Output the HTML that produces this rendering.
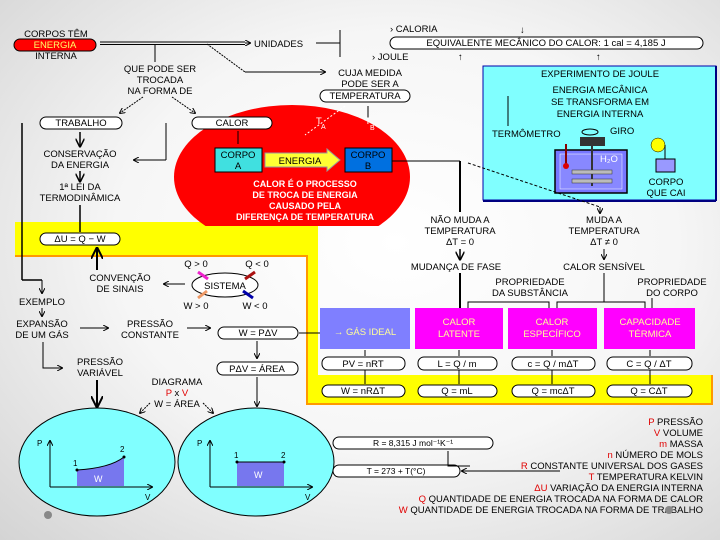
<!DOCTYPE html>
<html><head><meta charset="utf-8"><style>
html,body{margin:0;padding:0;}
body{width:720px;height:540px;overflow:hidden;background:radial-gradient(ellipse at 55% 45%,#ffffff 0%,#f6f6f6 50%,#d4d4d4 100%);}
svg{position:absolute;left:0;top:0;}
text{font-family:"Liberation Sans",sans-serif;font-size:9.5px;fill:#000;}
.c{text-anchor:middle;}
.r{text-anchor:end;}
.w{fill:#fff;font-weight:bold;font-size:9px;}
.y{fill:#ffff66;}
.rd{fill:#e00000;}
</style></head><body>
<svg width="720" height="540" viewBox="0 0 720 540">
<defs><marker id="a" markerWidth="6" markerHeight="6" refX="5" refY="3" orient="auto"><path d="M0,0 L6,3 L0,6" fill="none" stroke="#000" stroke-width="1"/></marker>
<clipPath id="cl"><rect x="0" y="0" width="720" height="226"/></clipPath></defs>
<!-- yellow frame -->
<path d="M15,222 H318 V375 H712 V404 H307 V256 H15 Z" fill="#ffff00"/>
<path d="M15,256 H307 V404 H712 V375" fill="none" stroke="#ff9900" stroke-width="2"/>
<!-- red ellipse -->
<ellipse cx="292" cy="177" rx="118" ry="72" fill="#ff0000" clip-path="url(#cl)"/>
<!-- joule box -->
<rect x="483" y="66" width="233" height="134" fill="#80ffff" stroke="#0000aa" stroke-width="1"/>
<line x1="716" y1="66" x2="716" y2="201" stroke="#000080" stroke-width="2"/>
<line x1="483" y1="201" x2="716" y2="201" stroke="#000080" stroke-width="2"/>
<!-- top left -->
<text x="56" y="37" class="c">CORPOS TÊM</text>
<rect x="14" y="39" width="82" height="12" rx="6" fill="#ff0000" stroke="#000"/>
<text x="55" y="48" class="c y">ENERGIA</text>
<text x="56" y="59" class="c">INTERNA</text>
<line x1="100" y1="42" x2="245" y2="42" stroke="#000"/><line x1="100" y1="44.5" x2="245" y2="44.5" stroke="#000"/>
<line x1="245" y1="43" x2="250" y2="43" stroke="#000" marker-end="url(#a)"/>
<text x="254" y="47">UNIDADES</text>
<line x1="316" y1="43" x2="340" y2="43" stroke="#000"/><line x1="340" y1="30" x2="340" y2="57" stroke="#000"/>
<text x="390" y="32">› CALORIA</text>
<text x="520" y="33">↓</text>
<rect x="390" y="37" width="313" height="12" rx="6" fill="#fff" stroke="#000"/>
<text x="546" y="46" class="c">EQUIVALENTE MECÂNICO DO CALOR: 1 cal = 4,185 J</text>
<text x="372" y="60">› JOULE</text>
<text x="458" y="60">↑</text><text x="596" y="60">↑</text>
<line x1="155" y1="44" x2="155" y2="62" stroke="#000"/>
<text x="160" y="72" class="c">QUE PODE SER</text>
<text x="160" y="83" class="c">TROCADA</text>
<text x="160" y="94" class="c">NA FORMA DE</text>
<line x1="207" y1="44" x2="245" y2="72" stroke="#000" stroke-dasharray="2,1"/>
<line x1="245" y1="72" x2="325" y2="72" stroke="#000" marker-end="url(#a)"/>
<text x="370" y="76" class="c">CUJA MEDIDA</text>
<text x="370" y="87" class="c">PODE SER A</text>
<rect x="320" y="90" width="90" height="12" rx="6" fill="#fff" stroke="#000"/>
<text x="365" y="99" class="c">TEMPERATURA</text>
<line x1="143" y1="97" x2="120" y2="113" stroke="#000" stroke-dasharray="2,1" marker-end="url(#a)"/>
<line x1="172" y1="97" x2="195" y2="113" stroke="#000" stroke-dasharray="2,1" marker-end="url(#a)"/>
<rect x="40" y="117" width="82" height="12" rx="6" fill="#fff" stroke="#000"/>
<text x="81" y="126" class="c">TRABALHO</text>
<rect x="192" y="117" width="80" height="12" rx="6" fill="#fff" stroke="#000"/>
<text x="232" y="126" class="c">CALOR</text>
<line x1="80" y1="132" x2="80" y2="146" stroke="#000" stroke-width="1.5" marker-end="url(#a)"/>
<text x="80" y="157" class="c">CONSERVAÇÃO</text>
<text x="80" y="168" class="c">DA ENERGIA</text>
<line x1="80" y1="171" x2="80" y2="181" stroke="#000" stroke-width="1.5" marker-end="url(#a)"/>
<text x="80" y="190" class="c">1ª LEI DA</text>
<text x="80" y="201" class="c">TERMODINÂMICA</text>
<line x1="80" y1="205" x2="80" y2="232" stroke="#000" stroke-width="1.5"/>
<line x1="166" y1="123" x2="166" y2="160" stroke="#000"/><line x1="166" y1="160" x2="134" y2="160" stroke="#000" marker-end="url(#a)"/>
<line x1="22" y1="123" x2="22" y2="280" stroke="#000" stroke-width="1.5"/>
<line x1="22" y1="280" x2="42" y2="280" stroke="#000" stroke-width="1.5"/>
<line x1="42" y1="280" x2="42" y2="293" stroke="#000" marker-end="url(#a)"/>
<!-- red content -->
<line x1="238" y1="131" x2="238" y2="144" stroke="#000"/>
<rect x="215" y="148" width="47" height="24" fill="#40e0e0" stroke="#000"/>
<text x="238" y="158" class="c">CORPO</text><text x="238" y="169" class="c">A</text>
<path d="M265,153 H327 V149 L340,160 L327,171 V167 H265 Z" fill="#ffff33" stroke="#999"/>
<text x="300" y="164" class="c">ENERGIA</text>
<rect x="345" y="148" width="47" height="24" fill="#0070e0" stroke="#000"/>
<text x="368" y="158" class="c">CORPO</text><text x="368" y="169" class="c">B</text>
<line x1="345" y1="106" x2="305" y2="135" stroke="#fff" stroke-dasharray="2,2"/>
<text x="316" y="124" style="fill:#fff">T</text><text x="321" y="129" style="fill:#fff;font-size:7px">A</text>
<line x1="368" y1="106" x2="368" y2="118" stroke="#000"/>
<text x="365" y="124" style="fill:#fff">T</text><text x="370" y="130" style="fill:#fff;font-size:7px">B</text>
<text x="305" y="187" class="c w">CALOR É O PROCESSO</text>
<text x="305" y="198" class="c w">DE TROCA DE ENERGIA</text>
<text x="305" y="209" class="c w">CAUSADO PELA</text>
<text x="305" y="220" class="c w">DIFERENÇA DE TEMPERATURA</text>
<!-- joule experiment -->
<text x="600" y="77" class="c">EXPERIMENTO DE JOULE</text>
<text x="600" y="93" class="c">ENERGIA MECÂNICA</text>
<text x="600" y="105" class="c">SE TRANSFORMA EM</text>
<text x="600" y="117" class="c">ENERGIA INTERNA</text>
<line x1="508" y1="96" x2="508" y2="126" stroke="#000"/>
<text x="492" y="137">TERMÔMETRO</text>
<text x="610" y="134">GIRO</text>
<ellipse cx="590" cy="132" rx="8" ry="3" fill="none" stroke="#000"/>
<rect x="580" y="137" width="25" height="9" fill="#333"/>
<rect x="555" y="150" width="72" height="43" fill="#7777ff" stroke="#000" stroke-width="1.5"/>
<rect x="560" y="154" width="62" height="35" fill="#8888ff" stroke="#fff" stroke-width="0.5"/>
<line x1="566" y1="144" x2="566" y2="165" stroke="#800" stroke-width="2"/><circle cx="566" cy="166" r="3" fill="#d00"/>
<line x1="592" y1="146" x2="592" y2="186" stroke="#333" stroke-width="2"/>
<rect x="572" y="170" width="40" height="4" fill="#bbb" stroke="#333" stroke-width="0.5"/>
<rect x="572" y="179" width="40" height="4" fill="#bbb" stroke="#333" stroke-width="0.5"/>
<text x="600" y="162" style="fill:#fff">H₂O</text>
<circle cx="658" cy="145" r="7" fill="#ffff00" stroke="#000" stroke-width="0.5"/>
<line x1="665" y1="145" x2="665" y2="160" stroke="#000"/>
<rect x="656" y="159" width="19" height="13" fill="#9999ff" stroke="#000"/>
<text x="666" y="185" class="c">CORPO</text><text x="666" y="196" class="c">QUE CAI</text>
<!-- temperature branches -->
<line x1="392" y1="161" x2="460" y2="161" stroke="#000"/>
<line x1="460" y1="161" x2="460" y2="212" stroke="#000" stroke-width="2"/>
<line x1="468" y1="163" x2="600" y2="207" stroke="#000" stroke-dasharray="3,2"/>
<line x1="600" y1="207" x2="600" y2="213" stroke="#000" marker-end="url(#a)"/>
<text x="460" y="223" class="c">NÃO MUDA A</text>
<text x="460" y="234" class="c">TEMPERATURA</text>
<text x="460" y="245" class="c">ΔT = 0</text>
<text x="604" y="223" class="c">MUDA A</text>
<text x="604" y="234" class="c">TEMPERATURA</text>
<text x="604" y="245" class="c">ΔT ≠ 0</text>
<line x1="460" y1="249" x2="460" y2="259" stroke="#000" stroke-width="1.5" marker-end="url(#a)"/>
<line x1="604" y1="249" x2="604" y2="259" stroke="#000" marker-end="url(#a)"/>
<text x="456" y="270" class="c">MUDANÇA DE FASE</text>
<text x="604" y="270" class="c">CALOR SENSÍVEL</text>
<line x1="460" y1="273" x2="460" y2="310" stroke="#000" stroke-width="2"/>
<text x="530" y="285" class="c">PROPRIEDADE</text><text x="530" y="296" class="c">DA SUBSTÂNCIA</text>
<text x="672" y="285" class="c">PROPRIEDADE</text><text x="672" y="296" class="c">DO CORPO</text>
<path d="M468,310 V302 H549 V310" fill="none" stroke="#000"/>
<path d="M604,273 V302 H557 V310 M604,302 H645 V310" fill="none" stroke="#000"/>
<line x1="652" y1="298" x2="652" y2="310" stroke="#000"/>
<!-- boxes -->
<rect x="320" y="308" width="90" height="41" fill="#7f7fff"/>
<text x="365" y="335" class="c" style="fill:#ffff99">→ GÁS IDEAL</text>
<rect x="415" y="308" width="88" height="41" fill="#ff00ff"/>
<text x="459" y="325" class="c" style="fill:#ffff99">CALOR</text><text x="459" y="337" class="c" style="fill:#ffff99">LATENTE</text>
<rect x="508" y="308" width="89" height="41" fill="#ff00ff"/>
<text x="552" y="325" class="c" style="fill:#ffff99">CALOR</text><text x="552" y="337" class="c" style="fill:#ffff99">ESPECÍFICO</text>
<rect x="604" y="308" width="91" height="41" fill="#ff00ff"/>
<text x="650" y="325" class="c" style="fill:#ffff99">CAPACIDADE</text><text x="650" y="337" class="c" style="fill:#ffff99">TÉRMICA</text>
<g stroke="#000"><line x1="365" y1="350" x2="365" y2="356"/><line x1="459" y1="350" x2="459" y2="356"/><line x1="552" y1="350" x2="552" y2="356"/><line x1="650" y1="350" x2="650" y2="356"/>
<line x1="365" y1="370" x2="365" y2="384"/><line x1="459" y1="370" x2="459" y2="384"/><line x1="552" y1="370" x2="552" y2="384"/><line x1="650" y1="370" x2="650" y2="384"/></g>
<g fill="#fff" stroke="#000"><rect x="322" y="357" width="83" height="13" rx="6"/><rect x="418" y="357" width="79" height="13" rx="6"/><rect x="512" y="357" width="83" height="13" rx="6"/><rect x="607" y="357" width="85" height="13" rx="6"/>
<rect x="322" y="385" width="83" height="12" rx="6"/><rect x="418" y="385" width="79" height="12" rx="6"/><rect x="512" y="385" width="83" height="12" rx="6"/><rect x="607" y="385" width="85" height="12" rx="6"/></g>
<text x="363" y="367" class="c">PV = nRT</text><text x="457" y="367" class="c">L = Q / m</text><text x="553" y="367" class="c">c = Q / mΔT</text><text x="649" y="367" class="c">C = Q / ΔT</text>
<text x="363" y="394" class="c">W = nRΔT</text><text x="457" y="394" class="c">Q = mL</text><text x="553" y="394" class="c">Q = mcΔT</text><text x="649" y="394" class="c">Q = CΔT</text>
<!-- left middle -->
<rect x="40" y="233" width="80" height="12" rx="6" fill="#fff" stroke="#000"/>
<text x="80" y="242" class="c">ΔU = Q − W</text>
<line x1="97" y1="270" x2="97" y2="249" stroke="#000" stroke-width="2" marker-end="url(#a)"/>
<text x="120" y="281" class="c">CONVENÇÃO</text><text x="120" y="292" class="c">DE SINAIS</text>
<line x1="185" y1="284" x2="164" y2="284" stroke="#000" marker-end="url(#a)"/>
<text x="196" y="267" class="c">Q &gt; 0</text><text x="257" y="267" class="c">Q &lt; 0</text>
<ellipse cx="225" cy="285" rx="33" ry="12" fill="#fff" stroke="#000"/>
<text x="225" y="289" class="c">SISTEMA</text>
<line x1="198" y1="272" x2="208" y2="279" stroke="#ee22cc" stroke-width="3"/>
<line x1="245" y1="279" x2="255" y2="272" stroke="#aa1111" stroke-width="3"/>
<line x1="253" y1="298" x2="243" y2="291" stroke="#0000aa" stroke-width="3"/>
<line x1="207" y1="291" x2="198" y2="298" stroke="#ee9966" stroke-width="3"/>
<text x="196" y="309" class="c">W &gt; 0</text><text x="255" y="309" class="c">W &lt; 0</text>
<text x="42" y="305" class="c">EXEMPLO</text>
<line x1="42" y1="308" x2="42" y2="316" stroke="#000" marker-end="url(#a)"/>
<text x="42" y="327" class="c">EXPANSÃO</text><text x="42" y="338" class="c">DE UM GÁS</text>
<line x1="80" y1="328" x2="108" y2="328" stroke="#000" marker-end="url(#a)"/>
<text x="150" y="327" class="c">PRESSÃO</text><text x="150" y="338" class="c">CONSTANTE</text>
<line x1="187" y1="328" x2="210" y2="328" stroke="#000" marker-end="url(#a)"/>
<rect x="218" y="327" width="80" height="12" rx="6" fill="#fff" stroke="#000"/>
<text x="258" y="336" class="c">W = PΔV</text>
<line x1="299" y1="333" x2="320" y2="333" stroke="#000"/>
<line x1="257" y1="341" x2="257" y2="358" stroke="#000" marker-end="url(#a)"/>
<rect x="217" y="362" width="81" height="13" rx="6" fill="#fff" stroke="#000"/>
<text x="257" y="372" class="c">PΔV = ÁREA</text>
<path d="M43,342 V368 H62" fill="none" stroke="#000" marker-end="url(#a)"/>
<text x="100" y="365" class="c">PRESSÃO</text><text x="100" y="376" class="c">VARIÁVEL</text>
<text x="177" y="385" class="c">DIAGRAMA</text>
<text x="177" y="396" class="c"><tspan class="rd">P</tspan> x <tspan class="rd">V</tspan></text>
<text x="177" y="407" class="c">W = ÁREA</text>
<line x1="97" y1="380" x2="97" y2="406" stroke="#000" stroke-width="2" marker-end="url(#a)"/>
<line x1="257" y1="377" x2="257" y2="406" stroke="#000" marker-end="url(#a)"/>
<line x1="150" y1="403" x2="140" y2="413" stroke="#000" stroke-dasharray="2,1" marker-end="url(#a)"/>
<line x1="203" y1="403" x2="213" y2="413" stroke="#000" stroke-dasharray="2,1" marker-end="url(#a)"/>
<!-- PV ellipses -->
<ellipse cx="97" cy="462" rx="78" ry="54" fill="#80ffff" stroke="#000"/>
<ellipse cx="256" cy="462" rx="78" ry="54" fill="#80ffff" stroke="#000"/>
<path d="M77,470 L77,486 L124,486 L124,457 Q110,468 77,470 Z" fill="#7777ee"/>
<path d="M77,470 Q110,468 124,457" fill="none" stroke="#000"/>
<circle cx="77" cy="470" r="1.5"/><circle cx="124" cy="457" r="1.5"/>
<text x="73" y="466" style="font-size:8px">1</text><text x="120" y="452" style="font-size:8px">2</text>
<text x="94" y="482" style="fill:#fff;font-size:9px">W</text>
<line x1="50" y1="487" x2="152" y2="487" stroke="#000" marker-end="url(#a)"/><line x1="50" y1="487" x2="50" y2="441" stroke="#000" marker-end="url(#a)"/>
<text x="37" y="446" style="font-size:8px">P</text><text x="145" y="500" style="font-size:8px">V</text>
<rect x="237" y="462" width="47" height="24" fill="#7777ee"/>
<line x1="237" y1="462" x2="284" y2="462" stroke="#000"/>
<circle cx="237" cy="462" r="1.5"/><circle cx="284" cy="462" r="1.5"/>
<text x="234" y="458" style="font-size:8px">1</text><text x="281" y="458" style="font-size:8px">2</text>
<text x="254" y="478" style="fill:#fff;font-size:9px">W</text>
<line x1="210" y1="487" x2="312" y2="487" stroke="#000" marker-end="url(#a)"/><line x1="210" y1="487" x2="210" y2="441" stroke="#000" marker-end="url(#a)"/>
<text x="197" y="446" style="font-size:8px">P</text><text x="305" y="500" style="font-size:8px">V</text>
<!-- legend -->
<rect x="333" y="437" width="160" height="12" rx="6" fill="#fff" stroke="#000"/>
<text x="413" y="446" class="c" style="font-size:8.5px">R = 8,315 J mol⁻¹K⁻¹</text>
<rect x="333" y="465" width="127" height="12" rx="6" fill="#fff" stroke="#000"/>
<text x="396" y="474" class="c" style="font-size:8.5px">T = 273 + T(°C)</text>
<path d="M448,451 V466 H470" fill="none" stroke="#000"/>
<line x1="560" y1="471" x2="462" y2="471" stroke="#000" marker-end="url(#a)"/>
<text x="703" y="425" class="r"><tspan class="rd">P</tspan> PRESSÃO</text>
<text x="703" y="436" class="r"><tspan class="rd">V</tspan> VOLUME</text>
<text x="703" y="447" class="r"><tspan class="rd">m</tspan> MASSA</text>
<text x="703" y="458" class="r"><tspan class="rd">n</tspan> NÚMERO DE MOLS</text>
<text x="703" y="469" class="r"><tspan class="rd">R</tspan> CONSTANTE UNIVERSAL DOS GASES</text>
<text x="703" y="480" class="r"><tspan class="rd">T</tspan> TEMPERATURA KELVIN</text>
<text x="703" y="491" class="r"><tspan class="rd">ΔU</tspan> VARIAÇÃO DA ENERGIA INTERNA</text>
<text x="703" y="502" class="r"><tspan class="rd">Q</tspan> QUANTIDADE DE ENERGIA TROCADA NA FORMA DE CALOR</text>
<text x="703" y="513" class="r"><tspan class="rd">W</tspan> QUANTIDADE DE ENERGIA TROCADA NA FORMA DE TRABALHO</text>
<circle cx="48" cy="515" r="4" fill="#888"/><circle cx="669" cy="510" r="4" fill="#888"/>
</svg>
</body></html>
